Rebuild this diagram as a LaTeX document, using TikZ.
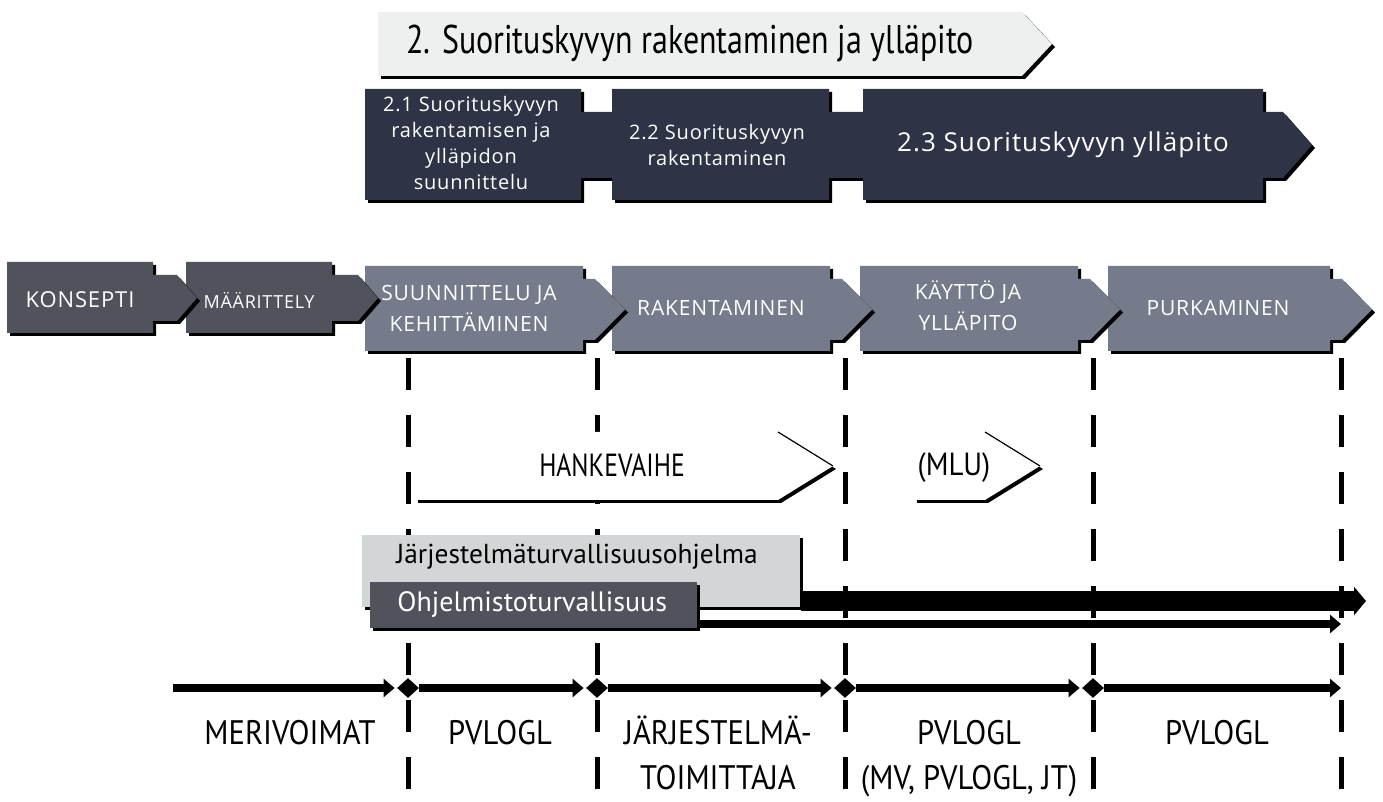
\documentclass[tikz,border=0pt]{standalone}
\usepackage{fontspec}
\usepackage{graphicx}
\setmainfont{PT Sans}
\newfontfamily\boxfont[LetterSpace=4]{Open Sans}
\usetikzlibrary{arrows.meta,shapes.geometric,shadows}

\definecolor{titlefill}{HTML}{EEF0F0}
\definecolor{navy}{HTML}{2E3345}
\definecolor{darkgrey}{HTML}{50525C}
\definecolor{midgrey}{HTML}{767B8B}
\definecolor{paleGrey}{HTML}{D3D6D7}

% condensed black label text (one or more centred lines)
\newcommand\cond[2][0.9]{\scalebox{#1}[1]{\begin{tabular}{@{}c@{}}#2\end{tabular}}}

% phase block: left, body right, top, bottom, neck top, neck bottom,
% neck end, tip x, fill colour; drawn with a hard black drop shadow
\newcommand\phaseblock[9]{%
  \fill[black,shift={(3,3)}] (#1,#3) -- (#2,#3) -- (#2,#5) -- (#7,#5) -- (#8,{(#5+#6)/2})
     -- (#7,#6) -- (#2,#6) -- (#2,#4) -- (#1,#4) -- cycle;
  \fill[#9] (#1,#3) -- (#2,#3) -- (#2,#5) -- (#7,#5) -- (#8,{(#5+#6)/2})
     -- (#7,#6) -- (#2,#6) -- (#2,#4) -- (#1,#4) -- cycle;}

% white chevron whose outline shows only through its shadow
\newcommand\openchevron[5]{% left, body right, tip x, top, bottom
  \fill[black,shift={(3,3)}] (#1,#4) -- (#2,#4) -- (#3,{(#4+#5)/2}) -- (#2,#5) -- (#1,#5) -- cycle;
  \fill[white] (#1,#4) -- (#2,#4) -- (#3,{(#4+#5)/2}) -- (#2,#5) -- (#1,#5) -- cycle;
  \draw[line width=0.6pt] (#2,#4) -- (#3,{(#4+#5)/2});}

\begin{document}
\begin{tikzpicture}[x=0.5pt,y=-0.5pt,
  whitetext/.style={text=white,align=center,inner sep=0pt},
  blacktext/.style={text=black,inner sep=0pt},
  divider/.style={line width=2.5pt,dash pattern=on 16pt off 12.5pt},
  flowline/.style={line width=4pt,-{Triangle[length=5.5pt,width=9pt]}},
  milestone/.style={diamond,fill=black,inner sep=0pt,minimum width=11pt,minimum height=10pt},
  hardshadow/.style={drop shadow={shadow xshift=1.5pt,shadow yshift=-1.5pt,opacity=1,fill=black}},
  programbox/.style={anchor=north west,inner sep=0pt,hardshadow}]

\useasboundingbox (0,0) rectangle (1383,802);

% ---- main heading arrow
\fill[black,shift={(3,3)}] (378,12) -- (1022,12) -- (1052,44) -- (1022,76) -- (378,76) -- cycle;
\fill[titlefill] (378,12) -- (1022,12) -- (1052,44) -- (1022,76) -- (378,76) -- cycle;
\node[blacktext,anchor=west,font=\fontsize{20}{24}\selectfont] (title) at (406,44)
  {\cond[0.8]{2. Suorituskyvyn rakentaminen ja ylläpito}};

% ---- sub-phases 2.1 - 2.3
\phaseblock{365}{581}{89}{200}{112}{178}{640}{660}{navy}
\phaseblock{612}{829}{89}{200}{112}{178}{880}{900}{navy}
\phaseblock{863}{1263}{89}{200}{112}{178}{1283}{1312}{navy}
\begin{scope}[font=\boxfont\fontsize{10}{13}\selectfont]
\node[whitetext] (s21) at (471,143) {2.1 Suorituskyvyn\\rakentamisen ja\\ylläpidon\\suunnittelu};
\node[whitetext] (s22) at (717,145) {2.2 Suorituskyvyn\\rakentaminen};
\end{scope}
\node[whitetext,font=\boxfont\fontsize{13}{16}\selectfont] (s23) at (1063,145) {2.3 Suorituskyvyn ylläpito};

% ---- life-cycle phases (right to left so each tip overlaps its successor)
\phaseblock{1108}{1330}{266}{351}{279}{340}{1342}{1372}{midgrey}
\phaseblock{860}{1078}{266}{351}{279}{340}{1090}{1120}{midgrey}
\phaseblock{612}{830}{266}{351}{279}{340}{842}{872}{midgrey}
\phaseblock{365}{583}{266}{351}{279}{340}{595}{625}{midgrey}
\phaseblock{186}{332}{262}{333}{275}{321}{358}{378}{darkgrey}
\phaseblock{7}{153}{262}{333}{275}{321}{177}{197}{darkgrey}
\begin{scope}[font=\boxfont\fontsize{10.5}{15.5}\selectfont]
\node[whitetext,font=\boxfont\fontsize{11}{14}\selectfont] (konsepti) at (80,300) {KONSEPTI};
\node[whitetext,font=\boxfont\fontsize{9}{12}\selectfont] (maarittely) at (259,300) {MÄÄRITTELY};
\node[whitetext] (suunnittelu) at (469,308) {SUUNNITTELU JA\\KEHITTÄMINEN};
\node[whitetext] (rakentaminen) at (721,308) {RAKENTAMINEN};
\node[whitetext] (kaytto) at (968,306) {KÄYTTÖ JA\\YLLÄPITO};
\node[whitetext] (purkaminen) at (1218,308) {PURKAMINEN};
\end{scope}

% ---- phase boundaries
\foreach \n/\x in {1/408,2/597,3/845,4/1093,5/1341}{
  \coordinate (b\n top) at (\x,358);
  \coordinate (b\n bot) at (\x,802);
  \draw[divider] (b\n top) -- (b\n bot);
}

% ---- project phase and MLU chevrons
\openchevron{415}{778}{833}{432}{500}
\openchevron{914}{985}{1040}{432}{500}
\node[blacktext,font=\fontsize{16}{19}\selectfont] (hanke) at (612,469) {\cond[0.8]{HANKEVAIHE}};
\node[blacktext,font=\fontsize{16}{19}\selectfont] (mlu) at (954,468) {\cond[0.9]{(MLU)}};

% ---- safety programmes
\coordinate (sysend) at (1366,601);
\coordinate (swend) at (1341,624);
\node[programbox,fill=paleGrey,minimum width=219pt,minimum height=36pt] (sysbox) at (362,535) {};
\draw[line width=10pt,-{Triangle[length=6pt,width=14pt]}] (sysbox.east |- sysend) -- (sysend);
\node[programbox,fill=darkgrey,minimum width=163.5pt,minimum height=23pt] (swbox) at (370,582) {};
\draw[flowline] (swbox.east |- swend) -- (swend);
\node[blacktext,anchor=west,font=\fontsize{13.7}{16}\selectfont] (systext) at (396,557)
  {Järjestelmäturvallisuusohjelma};
\node[text=white,inner sep=0pt,anchor=west,font=\fontsize{14}{16}\selectfont] (swtext) at (397,604)
  {Ohjelmistoturvallisuus};

% ---- responsibility time line
\coordinate (start) at (173,688);
\node[milestone] (d1) at (408,688) {};
\node[milestone] (d2) at (597,688) {};
\node[milestone] (d3) at (845,688) {};
\node[milestone] (d4) at (1093,688) {};
\coordinate (finish) at (1341,688);
\draw[flowline,shorten >=1pt] (start) -- (d1.west);
\draw[flowline,shorten >=1pt] (d1.east) -- (d2.west);
\draw[flowline,shorten >=1pt] (d2.east) -- (d3.west);
\draw[flowline,shorten >=1pt] (d3.east) -- (d4.west);
\draw[flowline] (d4.east) -- (finish);

\begin{scope}[font=\fontsize{17}{22.5}\selectfont]
\node[blacktext] (merivoimat) at (290,735) {\cond{MERIVOIMAT}};
\node[blacktext] (pvlogl1) at (500,735) {\cond{PVLOGL}};
\node[blacktext] (toimittaja) at (718,757.5) {\cond{JÄRJESTELMÄ-\\TOIMITTAJA}};
\node[blacktext] (pvlogl2) at (969,757.5) {\cond{PVLOGL\\(MV, PVLOGL, JT)}};
\node[blacktext] (pvlogl3) at (1217,735) {\cond{PVLOGL}};
\end{scope}
\end{tikzpicture}
\end{document}
